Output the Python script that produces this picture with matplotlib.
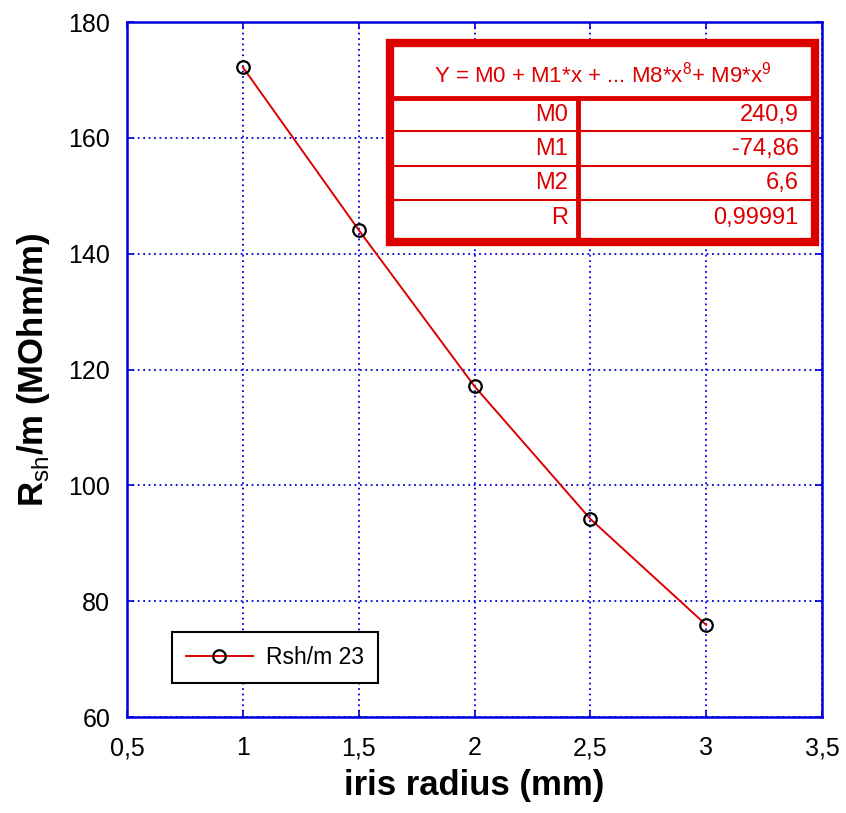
import matplotlib
matplotlib.use('Agg')
import matplotlib.pyplot as plt
from matplotlib.ticker import FuncFormatter

plt.rcParams['font.family'] = ['Liberation Sans', 'DejaVu Sans']
plt.rcParams['mathtext.fontset'] = 'custom'
plt.rcParams['mathtext.rm'] = 'Liberation Sans'
plt.rcParams['mathtext.bf'] = 'Liberation Sans:bold'

# data
iris_radius = [1.0, 1.5, 2.0, 2.5, 3.0]
rsh = [172.2, 144.1, 117.1, 94.2, 75.9]
fit_names = ['M0', 'M1', 'M2', 'R']
fit_values = ['240,9', '-74,86', '6,6', '0,99991']

blue = '#0000dd'
red = '#dd0000'

fig = plt.figure(figsize=(8.46, 8.13), dpi=100)
ax = fig.add_axes([127/846, 96/813, 695/846, 695/813])

ax.plot(iris_radius, rsh, color=red, lw=1.4, marker='o', markersize=9,
        markerfacecolor='none', markeredgecolor='black', markeredgewidth=1.6,
        label='Rsh/m 23')

ax.set_xlim(0.5, 3.5)
ax.set_ylim(60, 180)
ax.set_xticks([0.5, 1, 1.5, 2, 2.5, 3, 3.5])
ax.set_yticks(range(60, 181, 20))
ax.xaxis.set_major_formatter(FuncFormatter(lambda v, p: f'{v:g}'.replace('.', ',')))
ax.grid(True, color=blue, linestyle=(0, (1, 2)), lw=1.3)
for s in ax.spines.values():
    s.set_color(blue)
    s.set_linewidth(1.8)
ax.tick_params(direction='in', color=blue, length=5, width=1.2, labelsize=18,
               top=True, right=True)
ax.tick_params(axis='x', pad=14)
ax.tick_params(axis='y', pad=12)

ax.set_xlabel('iris radius (mm)', fontsize=25, fontweight='bold', labelpad=6)
ax.set_ylabel(r'$\mathbf{R}_{\rm sh}$/m (MOhm/m)', fontsize=25, fontweight='bold', labelpad=12)

leg = ax.legend(loc='lower left', bbox_to_anchor=(34/695, 23/695), fontsize=16.5,
                fancybox=False, framealpha=1, edgecolor='black',
                handlelength=2.9, borderpad=0.6, handletextpad=0.6)
leg.get_frame().set_linewidth(1.5)

# fit result table
tab = fig.add_axes([390/846, 571/813, 425/846, 199/813])
tab.set_xlim(0, 1)
tab.set_ylim(0, 1)
tab.axis('off')
tab.add_patch(plt.Rectangle((0, 0), 1, 1, facecolor='white', edgecolor=red,
                            lw=6, transform=tab.transAxes, clip_on=False))
tab.plot([0, 1], [0.724, 0.724], color=red, lw=3.5)
tab.plot([0.442, 0.442], [0, 0.724], color=red, lw=3.5)
for yl in [0.558, 0.382, 0.211]:
    tab.plot([0, 1], [yl, yl], color=red, lw=1.5)
tab.text(0.5, 0.84, r'Y = M0 + M1*x + ... M8*x$^8$+ M9*x$^9$', color=red,
         fontsize=16, ha='center', va='center')
for name, val, yc in zip(fit_names, fit_values, [0.638, 0.467, 0.296, 0.121]):
    tab.text(0.419, yc, name, color=red, fontsize=17, ha='right', va='center')
    tab.text(0.962, yc, val, color=red, fontsize=17, ha='right', va='center')

fig.savefig('out.png', dpi=100)
